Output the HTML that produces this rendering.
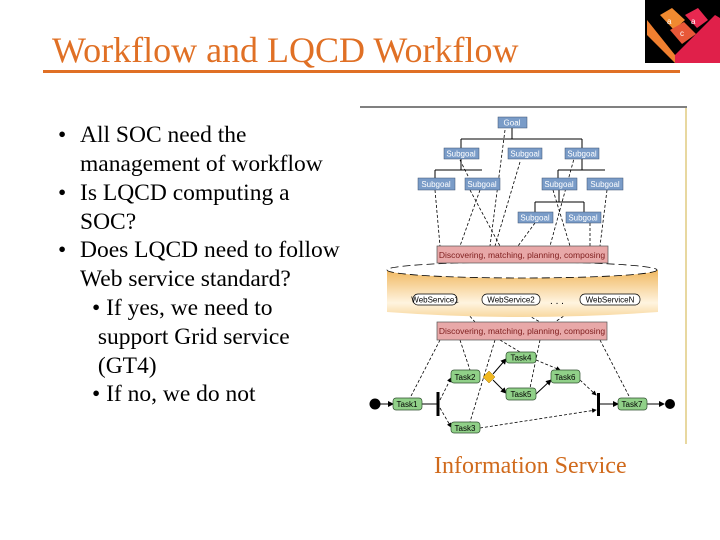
<!DOCTYPE html>
<html><head><meta charset="utf-8"><style>
body{margin:0;width:720px;height:540px;background:#fff;position:relative;overflow:hidden;font-family:"Liberation Serif",serif}
.t{position:absolute;left:52px;top:29px;font-size:36px;color:#e07025;white-space:nowrap}
.ul{position:absolute;left:43px;top:70px;width:637px;height:3px;background:#e07025}
.b{position:absolute;font-size:23.5px;color:#000;white-space:nowrap;line-height:28.8px}
.info{position:absolute;left:434px;top:453px;font-size:24px;color:#d06a1c}
</style></head><body>
<div class="t">Workflow and LQCD Workflow</div>
<div class="ul"></div>
<div class="b" style="left:58px;top:121px">•</div>
<div class="b" style="left:80px;top:121px">All SOC need the<br>management of workflow</div>
<div class="b" style="left:58px;top:179px">•</div>
<div class="b" style="left:80px;top:179px">Is LQCD computing a<br>SOC?</div>
<div class="b" style="left:58px;top:236px">•</div>
<div class="b" style="left:80px;top:236px">Does LQCD need to follow<br>Web service standard?</div>
<div class="b" style="left:92px;top:294px">• If yes, we need to<br>&nbsp;support Grid service<br>&nbsp;(GT4)<br>• If no, we do not</div>
<div class="info">Information Service</div>
<svg width="720" height="540" style="position:absolute;left:0;top:0" font-family="Liberation Sans, sans-serif">
<defs>
<linearGradient id="cy" x1="0" x2="0" y1="0" y2="1"><stop offset="0" stop-color="#f0b860"/><stop offset="0.7" stop-color="#fff4e0"/><stop offset="1" stop-color="#f8d8a0"/></linearGradient>
<marker id="ar" markerWidth="6" markerHeight="6" refX="5" refY="3" orient="auto"><path d="M0,0L6,3L0,6z" fill="#000"/></marker>
</defs>
<!-- logo -->
<rect x="645" y="0" width="75" height="63" fill="#000"/>
<polygon points="647,20 675,55 675,63 647,35" fill="#f08030"/>
<polygon points="675,55 715,15 720,18 720,63 675,63" fill="#e0204a"/>
<polygon points="660,15 672,8 685,20 674,30" fill="#f08a30"/>
<polygon points="685,15 698,8 708,20 697,28" fill="#e82850"/>
<polygon points="670,30 684,22 696,34 682,44" fill="#e85838"/>
<text x="667" y="24" font-size="8" fill="#fff">a</text><text x="691" y="24" font-size="8" fill="#fff">a</text><text x="680" y="36" font-size="8" fill="#fff">c</text>
<!-- frame -->
<line x1="360" y1="107" x2="687" y2="107" stroke="#000" stroke-width="1"/>
<line x1="686" y1="108" x2="686" y2="444" stroke="#e8d8a0" stroke-width="2"/>
<g stroke="#000" fill="none" stroke-width="1">
<line x1="512" y1="128" x2="512" y2="139"/><line x1="461" y1="139" x2="582" y2="139"/>
<line x1="461" y1="139" x2="461" y2="148"/><line x1="582" y1="139" x2="582" y2="148"/>
<line x1="461" y1="159" x2="461" y2="170"/><line x1="435" y1="170" x2="482" y2="170"/><line x1="435" y1="170" x2="435" y2="178"/>
<line x1="582" y1="159" x2="582" y2="170"/><line x1="558" y1="170" x2="605" y2="170"/><line x1="558" y1="170" x2="558" y2="178"/>
<line x1="559" y1="190" x2="559" y2="202"/><line x1="535" y1="202" x2="584" y2="202"/><line x1="535" y1="202" x2="535" y2="212"/><line x1="584" y1="202" x2="584" y2="212"/>
</g>
<g stroke="#000" fill="none" stroke-width="0.8" stroke-dasharray="3,2">
<line x1="505" y1="130" x2="490" y2="246"/><line x1="520" y1="162" x2="495" y2="246"/>
<line x1="435" y1="190" x2="440" y2="246"/><line x1="470" y1="190" x2="500" y2="246"/>
<line x1="480" y1="190" x2="460" y2="246"/><line x1="460" y1="160" x2="470" y2="180"/>
<line x1="535" y1="223" x2="518" y2="246"/><line x1="553" y1="190" x2="570" y2="246"/>
<line x1="575" y1="155" x2="550" y2="246"/><line x1="590" y1="223" x2="590" y2="246"/>
<line x1="607" y1="190" x2="600" y2="246"/>
<line x1="470" y1="263" x2="480" y2="294"/><line x1="560" y1="263" x2="590" y2="294"/>
<line x1="460" y1="305" x2="475" y2="322"/><line x1="510" y1="305" x2="540" y2="322"/><line x1="580" y1="305" x2="555" y2="322"/>
<line x1="440" y1="340" x2="410" y2="398"/><line x1="460" y1="340" x2="470" y2="370"/>
<line x1="495" y1="340" x2="470" y2="422"/><line x1="500" y1="340" x2="520" y2="352"/>
<line x1="540" y1="340" x2="530" y2="388"/><line x1="600" y1="340" x2="630" y2="398"/>
<line x1="480" y1="428" x2="596" y2="410" marker-end="url(#ar)"/>
<line x1="440" y1="400" x2="451" y2="378" marker-end="url(#ar)"/>
<line x1="440" y1="408" x2="451" y2="427" marker-end="url(#ar)"/>
<line x1="580" y1="380" x2="596" y2="395" marker-end="url(#ar)"/>
<line x1="536" y1="360" x2="560" y2="370" marker-end="url(#ar)"/>
</g>
<path d="M387,270 L387,312 Q522,322 658,312 L658,270 Z" fill="url(#cy)"/>
<ellipse cx="522" cy="270" rx="135" ry="8" fill="#fff" stroke="#000" stroke-width="0.8" stroke-dasharray="8,4"/>
<g font-size="8" text-anchor="middle">
<rect x="413" y="294" width="44" height="11" rx="5" fill="#fff" stroke="#000" stroke-width="0.7"/><text x="435" y="302.5">WebService1</text>
<rect x="482" y="294" width="58" height="11" rx="5" fill="#fff" stroke="#000" stroke-width="0.7"/><text x="511" y="302.5">WebService2</text>
<text x="557" y="304" font-size="10">. . .</text>
<rect x="580" y="294" width="60" height="11" rx="5" fill="#fff" stroke="#000" stroke-width="0.7"/><text x="610" y="302.5">WebServiceN</text>
</g>
<g font-size="8" text-anchor="middle" fill="#7a9cc8" stroke="#3a5070" stroke-width="0.5">
<rect x="498" y="117" width="29" height="11"/><rect x="444" y="148" width="35" height="11"/><rect x="508" y="148" width="34" height="11"/><rect x="565" y="148" width="34" height="11"/>
<rect x="418" y="178" width="37" height="12"/><rect x="465" y="178" width="35" height="12"/><rect x="542" y="178" width="35" height="12"/><rect x="587" y="178" width="36" height="12"/>
<rect x="518" y="212" width="35" height="11"/><rect x="566" y="212" width="35" height="11"/>
</g>
<g font-size="8" text-anchor="middle" fill="#fff">
<text x="512" y="125.5">Goal</text><text x="461" y="156.5">Subgoal</text><text x="525" y="156.5">Subgoal</text><text x="582" y="156.5">Subgoal</text>
<text x="436" y="187">Subgoal</text><text x="482" y="187">Subgoal</text><text x="559" y="187">Subgoal</text><text x="605" y="187">Subgoal</text>
<text x="535" y="220.5">Subgoal</text><text x="583" y="220.5">Subgoal</text>
</g>
<rect x="437" y="246" width="171" height="17" fill="#e8a8a8" stroke="#555" stroke-width="0.7"/>
<text x="522" y="258" font-size="8.5" text-anchor="middle" fill="#802020">Discovering, matching, planning, composing</text>
<rect x="437" y="322" width="170" height="18" fill="#e8a8a8" stroke="#555" stroke-width="0.7"/>
<text x="522" y="334" font-size="8.5" text-anchor="middle" fill="#802020">Discovering, matching, planning, composing</text>
<g stroke="#000" stroke-width="1" fill="none">
<line x1="380" y1="404" x2="393" y2="404" marker-end="url(#ar)"/>
<line x1="422" y1="404" x2="437" y2="404"/>
<line x1="493" y1="374" x2="506" y2="359" marker-end="url(#ar)"/>
<line x1="493" y1="380" x2="506" y2="393" marker-end="url(#ar)"/>
<line x1="536" y1="394" x2="551" y2="380" marker-end="url(#ar)"/>
<line x1="599" y1="404" x2="618" y2="404" marker-end="url(#ar)"/>
<line x1="647" y1="404" x2="664" y2="404" marker-end="url(#ar)"/>
</g>
<rect x="436.5" y="392" width="3" height="24" fill="#000"/>
<rect x="597" y="393" width="3" height="23" fill="#000"/>
<circle cx="375" cy="404" r="5.5" fill="#000"/>
<circle cx="670" cy="404" r="5" fill="#000"/>
<polygon points="489,371 495,377 489,383 483,377" fill="#f0b820" stroke="#a07000" stroke-width="0.5"/>
<g fill="#90d088" stroke="#305030" stroke-width="0.7">
<rect x="393" y="398" width="29" height="12" rx="3"/><rect x="451" y="370" width="29" height="13" rx="3"/><rect x="451" y="422" width="29" height="11" rx="3"/>
<rect x="506" y="352" width="30" height="11" rx="3"/><rect x="506" y="388" width="30" height="12" rx="3"/><rect x="551" y="370" width="29" height="13" rx="3"/>
<rect x="618" y="398" width="29" height="12" rx="3"/>
</g>
<g font-size="8" text-anchor="middle" fill="#000">
<text x="407" y="407">Task1</text><text x="465" y="380">Task2</text><text x="465" y="431">Task3</text>
<text x="521" y="360.5">Task4</text><text x="521" y="397">Task5</text><text x="565" y="380">Task6</text><text x="632" y="407">Task7</text>
</g>
</svg>
</body></html>
